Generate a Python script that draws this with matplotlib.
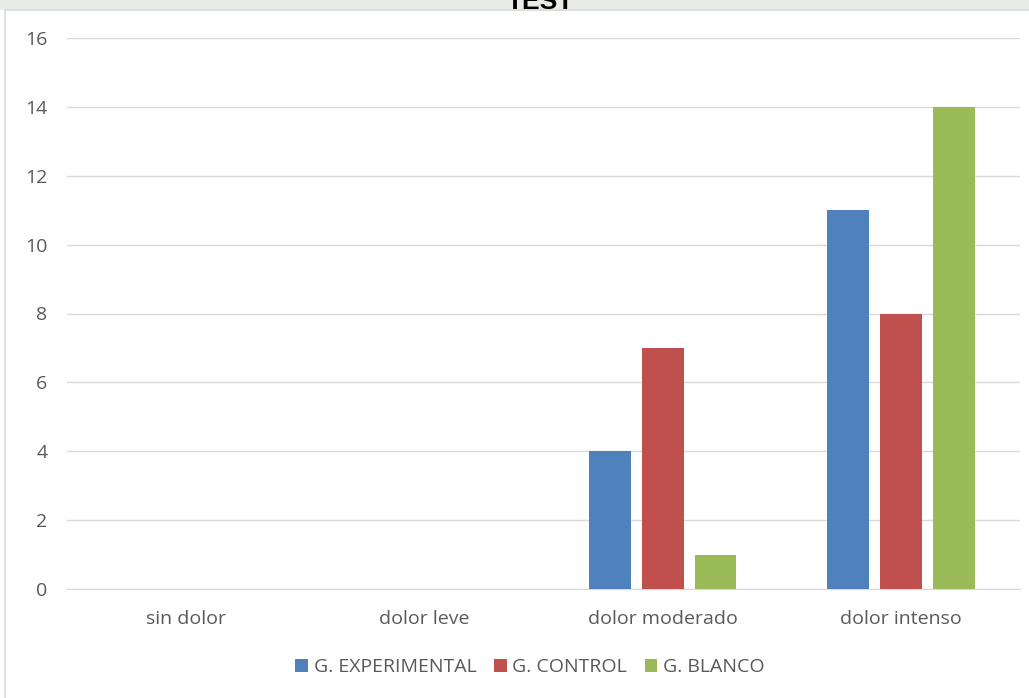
import matplotlib.pyplot as plt
from matplotlib.patches import Rectangle
import numpy as np

# chart data
categories = ['sin dolor', 'dolor leve', 'dolor moderado', 'dolor intenso']
series_names = ['G. EXPERIMENTAL', 'G. CONTROL', 'G. BLANCO']
experimental = [0, 0, 4, 11]
control = [0, 0, 7, 8]
blanco = [0, 0, 1, 14]
yticks = [0, 2, 4, 6, 8, 10, 12, 14, 16]

colors = ['#4F81BD', '#C0504D', '#9BBB59']
txt = '#595959'

plt.rcParams['font.family'] = ['Open Sans', 'DejaVu Sans']

fig = plt.figure(figsize=(10.29, 6.98), dpi=100)
# page strip above the chart box
fig.patches.append(Rectangle((0, (698 - 10) / 698), 1, 10 / 698,
                             transform=fig.transFigure, facecolor='#e8ebe6',
                             edgecolor='none', zorder=0))
fig.patches.append(Rectangle((5 / 1029, -0.01), 1.02, (698 - 10) / 698 + 0.01,
                             transform=fig.transFigure, fill=False,
                             edgecolor='#d9d9d9', linewidth=1.2, zorder=1))
ax = fig.add_axes([67 / 1029, 109 / 698, (1020 - 67) / 1029, (589 - 38) / 698])

x = np.arange(len(categories))
width = 0.176
step = 0.222
for i, (vals, name) in enumerate(zip([experimental, control, blanco], series_names)):
    ax.bar(x + (i - 1) * step, vals, width, color=colors[i], label=name, zorder=3)

ax.set_xlim(-0.5, 3.5)
ax.set_ylim(0, 16)
ax.set_yticks(yticks)
ax.set_xticks(x)
ax.set_xticklabels(categories)
ax.tick_params(axis='both', length=0, colors=txt, labelsize=14)
ax.tick_params(axis='y', pad=14)
ax.tick_params(axis='x', pad=15)
ax.grid(axis='y', color='#d9d9d9', linewidth=1, zorder=0)
for s in ['top', 'right', 'left']:
    ax.spines[s].set_visible(False)
ax.spines['bottom'].set_color('#d9d9d9')

fig.text(540 / 1029, (698 - 9) / 698, 'TEST', ha='center', va='baseline',
         fontsize=19, fontweight='bold', color='black', family='Liberation Sans')

leg = fig.legend(loc='center', bbox_to_anchor=(0.515, 1 - 667 / 698), ncol=3,
                 frameon=False, handlelength=0.65, handleheight=0.65,
                 handletextpad=0.3, columnspacing=0.9, fontsize=14)
for t in leg.get_texts():
    t.set_color(txt)

fig.savefig('out.png', dpi=100)
